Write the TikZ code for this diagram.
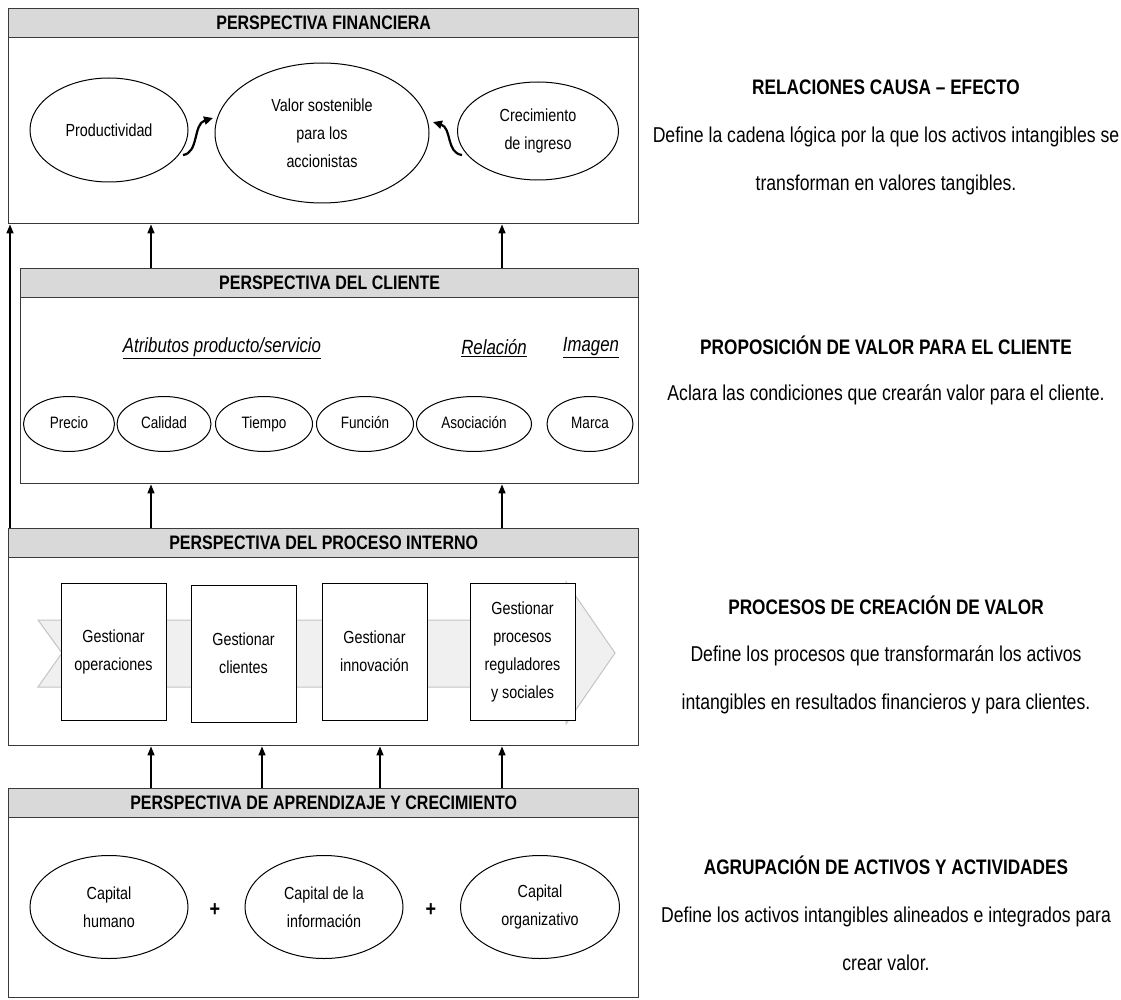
\documentclass[tikz,border=0pt]{standalone}
\usepackage{fontspec}
\setmainfont{Liberation Sans}[FakeStretch=0.82]
\usetikzlibrary{shapes.geometric, arrows.meta}

\definecolor{framegray}{HTML}{3A3A3A}
\definecolor{bandgray}{HTML}{D9D9D9}
\definecolor{chevfill}{HTML}{F0F0F0}
\definecolor{chevline}{HTML}{C4C4C4}

\begin{document}
\begin{tikzpicture}[x=1pt, y=-1pt,
    panel/.style={rectangle, draw=framegray, line width=1.4pt, anchor=north west, inner sep=0pt},
    band/.style={rectangle, draw=framegray, line width=1.4pt, fill=bandgray, anchor=north west,
        minimum height=29pt, inner sep=0pt, font=\bfseries\fontsize{19.5}{22}\selectfont},
    oval/.style={ellipse, draw=black, line width=1pt, inner sep=0pt, align=center,
        font=\fontsize{17.5}{28}\selectfont},
    small oval/.style={oval, minimum height=55pt, text height=12pt, text depth=3.5pt,
        font=\fontsize{16.5}{20}\selectfont},
    procbox/.style={rectangle, draw=black, line width=1pt, fill=white, inner sep=0pt,
        minimum width=105pt, minimum height=137pt, align=center, font=\fontsize{17.5}{28}\selectfont},
    subhead/.style={font=\itshape\fontsize{20.5}{22}\selectfont},
    plus/.style={font=\bfseries\fontsize{22}{22}\selectfont},
    head/.style={font=\bfseries\fontsize{21}{24}\selectfont},
    desc/.style={align=center, font=\fontsize{21.5}{48}\selectfont},
    up/.style={-{Triangle[length=9pt, width=7pt]}, line width=1.5pt, color=black},
    curvy/.style={-{Triangle[length=9pt, width=8pt]}, line width=2.2pt, color=black}
]
\useasboundingbox (0,0) rectangle (1121,1000);

% Perspectiva financiera
\node[panel, minimum width=630pt, minimum height=215pt] (fin) at (8,8) {};
\node[band, minimum width=630pt] (finT) at (fin.north west) {PERSPECTIVA FINANCIERA};
\node[oval, minimum width=158pt, minimum height=104pt] (prod) at (109,130) {Productividad};
\node[oval, minimum width=214pt, minimum height=140pt] (valor) at (322,133) {Valor sostenible\\para los\\accionistas};
\node[oval, minimum width=161pt, minimum height=98pt] (crec) at (538,131) {Crecimiento\\de ingreso};
\coordinate (p1) at (183,155);
\coordinate (p2) at (462,155);
\draw[curvy] (p1) .. controls (199,153) and (193,124) .. (213,118);
\draw[curvy] (p2) .. controls (446,153) and (452,128) .. (433,122);

% Perspectiva del cliente
\node[panel, minimum width=618pt, minimum height=215pt] (cli) at (20,268) {};
\node[band, minimum width=618pt] (cliT) at (cli.north west) {PERSPECTIVA DEL CLIENTE};
\node[subhead] (atr) at (222,348) {\underline{Atributos producto/servicio}};
\node[subhead] (rel) at (494,348) {\underline{Relación}};
\node[subhead] (img) at (591,348) {\underline{Imagen}};
\node[small oval, minimum width=91pt] (precio) at (69,424) {Precio};
\node[small oval, minimum width=94pt] (calidad) at (164,424) {Calidad};
\node[small oval, minimum width=97pt] (tiempo) at (264,424) {Tiempo};
\node[small oval, minimum width=97pt] (funcion) at (365,424) {Función};
\node[small oval, minimum width=115pt] (asoc) at (474,424) {Asociación};
\node[small oval, minimum width=86pt] (marca) at (590,424) {Marca};

% Perspectiva del proceso interno
\node[panel, minimum width=630pt, minimum height=217pt] (pro) at (8,528) {};
\node[band, minimum width=630pt] (proT) at (pro.north west) {PERSPECTIVA DEL PROCESO INTERNO};
\filldraw[fill=chevfill, draw=chevline, line width=1pt]
    (38,620) -- (566,620) -- (566,582) -- (615,653) -- (566,724) -- (566,687) -- (38,687) -- (62,653) -- cycle;
\node[procbox] (gop) at (113.5,651.5) {Gestionar\\operaciones};
\node[procbox] (gcl) at (243.5,653.5) {Gestionar\\clientes};
\node[procbox] (gin) at (374.5,651.5) {Gestionar\\innovación};
\node[procbox] (gre) at (522.5,651.5) {Gestionar\\procesos\\reguladores\\y sociales};

% Perspectiva de aprendizaje y crecimiento
\node[panel, minimum width=630pt, minimum height=209pt] (apr) at (8,788) {};
\node[band, minimum width=630pt] (aprT) at (apr.north west) {PERSPECTIVA DE APRENDIZAJE Y CRECIMIENTO};
\node[oval, minimum width=158pt, minimum height=103pt] (hum) at (109,907) {Capital\\humano};
\node[oval, minimum width=158pt, minimum height=103pt] (info) at (324,907) {Capital de la\\información};
\node[oval, minimum width=159pt, minimum height=103pt] (org) at (540,907) {Capital\\organizativo};
\node[plus] (plus1) at (215,910) {+};
\node[plus] (plus2) at (431,910) {+};

% Flechas entre perspectivas
\coordinate (xl) at (10,0);
\coordinate (xa) at (151,0);
\coordinate (xb) at (262,0);
\coordinate (xc) at (380,0);
\coordinate (xd) at (502,0);
\draw[up] (xl |- pro.north) -- (xl |- fin.south);
\draw[up] (xa |- cli.north) -- (xa |- fin.south);
\draw[up] (xd |- cli.north) -- (xd |- fin.south);
\draw[up] (xa |- pro.north) -- (xa |- cli.south);
\draw[up] (xd |- pro.north) -- (xd |- cli.south);
\foreach \c in {xa, xb, xc, xd}
    \draw[up] (\c |- apr.north) -- (\c |- pro.south);

% Textos laterales
\node[head] (h1) at (886,87) {RELACIONES CAUSA – EFECTO};
\node[desc] (d1) at (886,161) {Define la cadena lógica por la que los activos intangibles se\\transforman en valores tangibles.};
\node[head] (h2) at (886,345) {PROPOSICIÓN DE VALOR PARA EL CLIENTE};
\node[desc] (d2) at (886,395) {Aclara las condiciones que crearán valor para el cliente.};
\node[head] (h3) at (886,605) {PROCESOS DE CREACIÓN DE VALOR};
\node[desc] (d3) at (886,680) {Define los procesos que transformarán los activos\\intangibles en resultados financieros y para clientes.};
\node[head] (h4) at (886,865) {AGRUPACIÓN DE ACTIVOS Y ACTIVIDADES};
\node[desc] (d4) at (886,939) {Define los activos intangibles alineados e integrados para\\crear valor.};

\end{tikzpicture}
\end{document}
